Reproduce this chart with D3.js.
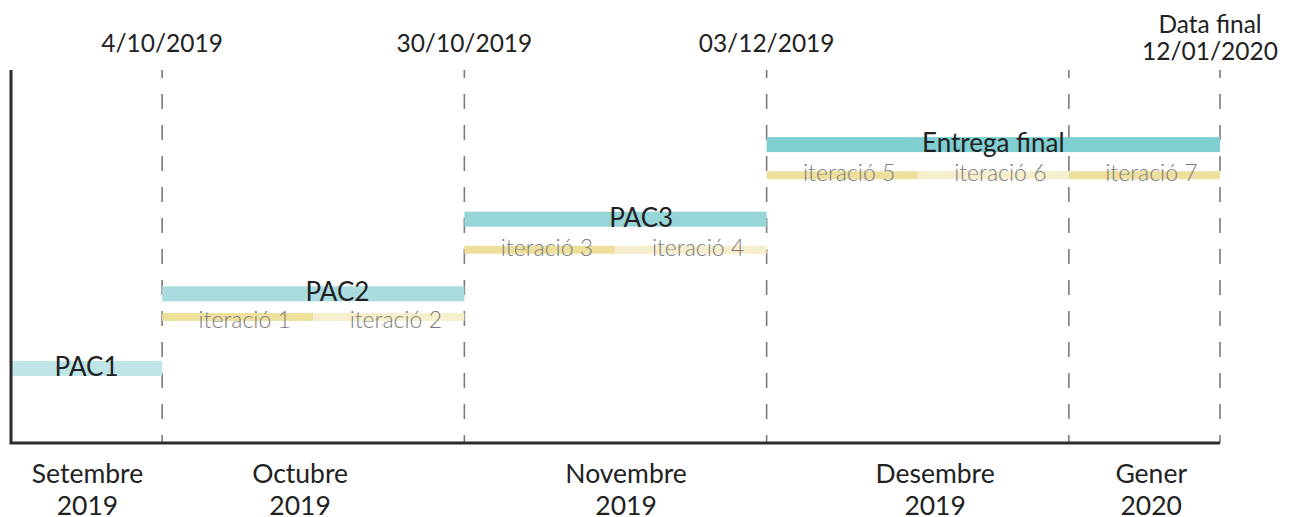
<script src="https://d3js.org/d3.v7.min.js"></script>
<style>
  body { margin: 0; background: #fff; }
  text { font-family: Lato, "Open Sans", sans-serif; }
</style>
<svg width=1289 height=517></svg>
<script>
// phases (x in iteration units, row = level)
var phases = ["PAC1", "PAC2", "PAC3", "Entrega final"]
var phaseStart = [0, 1, 3, 5]
var phaseEnd = [1, 3, 5, 8]
var phaseRow = [1, 2, 3, 4]
var phaseLabelAt = [0.5, 2.16, 4.17, 6.5]
var phaseColors = ["#bfe5e6", "#aadcdf", "#96d5d8", "#80cfd2"]

// iterations
var iterations = ["iteració 1", "iteració 2", "iteració 3", "iteració 4", "iteració 5", "iteració 6", "iteració 7"]
var iterStart = [1, 2, 3, 4, 5, 6, 7]
var iterRow = [1.69, 1.69, 2.59, 2.59, 3.59, 3.59, 3.59]
var iterTextRow = [1.54, 1.54, 2.51, 2.51, 3.51, 3.51, 3.51]
var iterColors = ["#ede09d", "#f5efcd"]

// milestones
var milestones = [["4/10/2019"], ["30/10/2019"], ["03/12/2019"], ["Data final", "12/01/2020"]]
var milestoneAt = [1, 3, 5, 8]
var gridAt = [1, 3, 5, 7, 8]

// months
var months = [["Setembre", "2019"], ["Octubre", "2019"], ["Novembre", "2019"], ["Desembre", "2019"], ["Gener", "2020"]]
var monthAt = [0.506, 1.913, 4.07, 6.115, 7.545]

var x = d3.scaleLinear().domain([0, 8]).range([11, 1220])
var y = d3.scaleLinear().domain([0, 5]).range([443, 70])

var svg = d3.select('svg')

  //dashed grid
  svg.selectAll('line.grid')
    .data(gridAt)
    .join('line')
    .attr('class', 'grid')
    .attr('x1', d => x(d))
    .attr('x2', d => x(d))
    .attr('y1', y(5))
    .attr('y2', y(0))
    .style('stroke', '#7a7a7a')
    .style('stroke-width', 1.6)
    .style('stroke-dasharray', '15,16')
    .style('stroke-dashoffset', 7)

  //phase bars
  svg.selectAll('rect.phase')
    .data(phases)
    .join('rect')
    .attr('class', 'phase')
    .attr('x', (d, i) => x(phaseStart[i]))
    .attr('width', (d, i) => x(phaseEnd[i]) - x(phaseStart[i]))
    .attr('y', (d, i) => y(phaseRow[i]) - 7.5)
    .attr('height', 15)
    .attr('fill', (d, i) => phaseColors[i])

  //iteration bars
  svg.selectAll('rect.iter')
    .data(iterations)
    .join('rect')
    .attr('class', 'iter')
    .attr('x', (d, i) => x(iterStart[i]))
    .attr('width', (d, i) => x(iterStart[i] + 1) - x(iterStart[i]))
    .attr('y', (d, i) => y(iterRow[i]) - 4)
    .attr('height', 8)
    .attr('fill', (d, i) => iterColors[i % 2])

  //iteration labels
  svg.selectAll('text.iter')
    .data(iterations)
    .join('text')
    .attr('class', 'iter')
    .attr('x', (d, i) => x(iterStart[i] + 0.5) + 7)
    .attr('y', (d, i) => y(iterTextRow[i]))
    .attr('text-anchor', 'middle')
    .style('font-family', '"Lato Light", Lato, sans-serif')
    .style('font-size', '23px')
    .style('font-weight', 300)
    .style('fill', '#7d7d7d')
    .text(d => d)

  //phase labels
  svg.selectAll('text.phase')
    .data(phases)
    .join('text')
    .attr('class', 'phase')
    .attr('x', (d, i) => x(phaseLabelAt[i]))
    .attr('y', (d, i) => y(phaseRow[i]) + 7.5)
    .attr('text-anchor', 'middle')
    .style('font-size', '26px')
    .style('fill', '#222')
    .text(d => d)

  //axes
  svg.append('path')
    .attr('d', 'M' + x(0) + ',' + y(5) + 'V' + y(0) + 'H' + x(8))
    .attr('fill', 'none')
    .style('stroke', '#2b2b2b')
    .style('stroke-width', 3)

  //milestone labels
  svg.selectAll('text.milestone')
    .data(milestones)
    .join('text')
    .attr('class', 'milestone')
    .attr('text-anchor', 'middle')
    .attr('x', (d, i) => x(milestoneAt[i]) - (d.length > 1 ? 10 : 0))
    .attr('y', d => d.length > 1 ? 33 : 52)
    .style('font-size', '24.5px')
    .style('fill', '#222')
    .selectAll('tspan')
    .data(d => d)
    .join('tspan')
    .attr('x', function() { return d3.select(this.parentNode).attr('x') })
    .attr('dy', (d, i) => i ? 27 : 0)
    .text(d => d)

  //month labels
  svg.selectAll('text.month')
    .data(months)
    .join('text')
    .attr('class', 'month')
    .attr('text-anchor', 'middle')
    .attr('x', (d, i) => x(monthAt[i]))
    .attr('y', 483)
    .style('font-size', '26.5px')
    .style('fill', '#222')
    .selectAll('tspan')
    .data(d => d)
    .join('tspan')
    .attr('x', function() { return d3.select(this.parentNode).attr('x') })
    .attr('dy', (d, i) => i ? 32 : 0)
    .text(d => d)
</script>
